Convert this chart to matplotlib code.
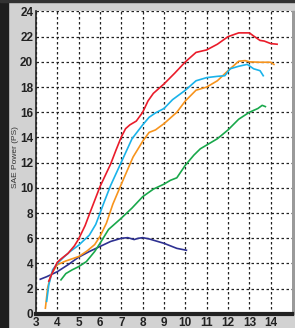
import matplotlib
matplotlib.use("Agg")
import matplotlib.pyplot as plt
from matplotlib.patches import Rectangle

# rpm (x1000) / power (PS)
red_x = [3.6, 3.8, 4.0, 4.2, 4.5, 4.8, 5.0, 5.3, 5.5, 5.75, 6.0, 6.25, 6.5, 6.75, 7.0, 7.2, 7.4, 7.7,
         8.0, 8.25, 8.5, 9.0, 9.5, 10.0, 10.5, 11.0, 11.5, 12.0, 12.5, 13.0, 13.2, 13.5, 13.7, 14.0, 14.3]
red_y = [2.6, 3.4, 4.1, 4.4, 4.8, 5.4, 5.95, 7.0, 7.9, 9.0, 10.1, 11.0, 11.9, 13.0, 14.05, 14.7, 15.0, 15.3,
         16.0, 16.9, 17.5, 18.25, 19.1, 20.0, 20.75, 20.95, 21.4, 22.0, 22.3, 22.3, 22.05, 21.7, 21.65, 21.45, 21.4]

blue_x = [3.5, 3.6, 3.78, 4.0, 4.3, 4.6, 5.0, 5.5, 5.8, 6.0, 6.2, 6.5, 7.0, 7.5, 8.0, 8.3, 8.6, 9.0, 9.4,
          10.0, 10.5, 11.0, 11.5, 11.85, 12.1, 12.5, 12.9, 13.2, 13.5, 13.65]
blue_y = [1.0, 2.3, 3.5, 4.0, 4.5, 4.95, 5.45, 6.25, 7.1, 8.0, 8.9, 10.2, 12.05, 13.9, 15.0, 15.6, 15.95, 16.3, 17.0,
          17.75, 18.5, 18.75, 18.85, 18.9, 19.45, 19.65, 19.8, 19.45, 19.3, 18.9]

orange_x = [3.44, 3.55, 3.7, 4.0, 4.4, 5.0, 5.4, 5.75, 6.0, 6.3, 6.6, 7.0, 7.55, 8.0, 8.3, 8.6, 9.0, 9.6,
            10.0, 10.5, 11.0, 11.5, 12.0, 12.5, 12.8, 13.0, 13.5, 14.0, 14.15]
orange_y = [0.45, 2.1, 3.1, 3.9, 4.2, 4.55, 5.0, 5.5, 6.15, 7.2, 8.7, 10.3, 12.45, 13.7, 14.4, 14.6, 15.1, 16.0,
            16.9, 17.75, 18.0, 18.5, 19.3, 20.05, 20.1, 20.0, 19.97, 19.97, 19.8]

green_x = [4.17, 4.4, 4.7, 5.0, 5.36, 5.75, 6.0, 6.4, 7.0, 7.5, 8.0, 8.5, 9.0, 9.3, 9.6, 10.0, 10.4, 10.7,
           11.0, 11.5, 12.0, 12.5, 13.0, 13.4, 13.6, 13.75]
green_y = [2.7, 3.2, 3.5, 3.75, 4.15, 4.95, 5.6, 6.7, 7.6, 8.4, 9.3, 9.9, 10.3, 10.6, 10.8, 11.8, 12.6, 13.1,
           13.4, 13.9, 14.6, 15.45, 16.0, 16.3, 16.55, 16.45]

navy_x = [3.2, 3.5, 4.0, 4.5, 5.0, 5.5, 6.0, 6.5, 7.0, 7.3, 7.6, 7.8, 8.0, 8.3, 8.6, 9.0, 9.3, 9.6, 10.05]
navy_y = [2.75, 2.95, 3.35, 3.9, 4.5, 4.95, 5.35, 5.75, 6.0, 6.05, 5.9, 6.0, 6.05, 5.95, 5.8, 5.6, 5.4, 5.2, 5.05]

xticks = list(range(3, 15))
yticks = list(range(0, 25, 2))

plt.rcParams['font.family'] = ['Liberation Sans', 'DejaVu Sans']

fig = plt.figure(figsize=(2.95, 3.28), dpi=100, facecolor='#d2d2d2')
# frame decorations of the scanned sheet
fig.patches.append(Rectangle((0, 0), 0.027, 1, transform=fig.transFigure, color='#1e1e1e', zorder=-1))
fig.patches.append(Rectangle((0, 0.993), 1, 0.007, transform=fig.transFigure, color='#333333', zorder=-1))
fig.patches.append(Rectangle((0.99, 0.043), 0.01, 0.924, transform=fig.transFigure, color='#9a9a9a', zorder=-1))

ax = fig.add_axes([0.122, 0.043, 0.868, 0.924])
ax.set_facecolor('white')

ax.plot(navy_x, navy_y, color='#2e3192', lw=1.2)
ax.plot(green_x, green_y, color='#19a84b', lw=1.2)
ax.plot(orange_x, orange_y, color='#f7941d', lw=1.2)
ax.plot(blue_x, blue_y, color='#1ab3ea', lw=1.2)
ax.plot(red_x, red_y, color='#ea1c2a', lw=1.2)

ax.set_xlim(3, 15)
ax.set_ylim(0, 24.05)
ax.set_xticks(xticks)
ax.set_yticks(yticks)
ax.grid(True, color='#222222', lw=0.9, linestyle=(0, (2, 2)))
ax.set_axisbelow(True)
ax.tick_params(length=0, labelsize=8.5, colors='#222222', pad=2)
ax.tick_params(axis='x', pad=2.5)
for lab in ax.get_xticklabels() + ax.get_yticklabels():
    lab.set_fontweight('semibold')

for s in ['top', 'right']:
    ax.spines[s].set_visible(False)
ax.spines['left'].set_linewidth(1.2)
ax.spines['left'].set_color('#222222')
ax.spines['bottom'].set_linewidth(3)
ax.spines['bottom'].set_color('#222222')

fig.text(0.052, 0.52, 'SAE Power (PS)', rotation=90, fontsize=6, color='#333333',
         ha='center', va='center')

fig.savefig('out.png', dpi=100, facecolor=fig.get_facecolor())
